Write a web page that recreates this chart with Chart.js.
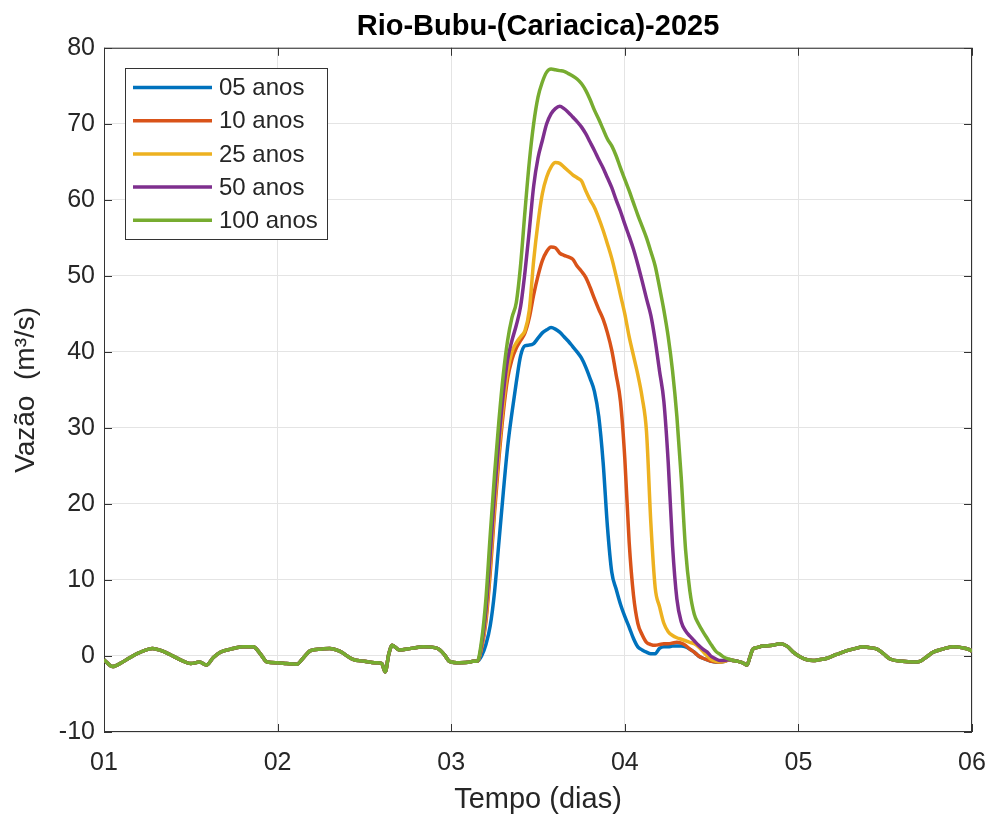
<!DOCTYPE html>
<html>
<head>
<meta charset="utf-8">
<script src="https://cdn.jsdelivr.net/npm/chart.js@4.4.1/dist/chart.umd.min.js"></script>
<style>
  html, body { margin: 0; background: #fff; }
</style>
</head>
<body>
<canvas id="chart" width="991" height="821"></canvas>
<script>
// series names and MATLAB default colours
const seriesLabels = ['05 anos', '10 anos', '25 anos', '50 anos', '100 anos'];
const seriesColors = ['#0072BD', '#D95319', '#EDB120', '#7E2F8E', '#77AC30'];

// tick labels on the time axis (days)
const xTickLabels = ['01', '02', '03', '04', '05', '06'];

// baseline before the flood (same for every return period)
const tPre = [1.00, 1.05, 1.10, 1.15, 1.20, 1.28, 1.33, 1.38, 1.44, 1.50, 1.55, 1.59, 1.63, 1.67, 1.73,
              1.80, 1.86, 1.90, 1.94, 2.00, 2.05, 2.11, 2.15, 2.19, 2.25, 2.30, 2.36, 2.43, 2.50, 2.57,
              2.60, 2.62, 2.64, 2.66, 2.70, 2.77, 2.84, 2.92, 2.96, 2.99, 3.05, 3.11, 3.125];
const qPre = [-0.5, -1.4, -0.9, -0.2, 0.4, 1.0, 0.7, 0.2, -0.5, -1.0, -0.8, -1.2, -0.2, 0.5, 0.9,
              1.2, 1.2, 0.3, -0.8, -0.9, -1.0, -1.1, -0.2, 0.7, 0.9, 1.0, 0.6, -0.4, -0.7, -0.9,
              -1.0, -2.1, 0.2, 1.4, 0.8, 1.0, 1.2, 1.0, 0.2, -0.7, -0.9, -0.8, -0.7];

// flood event window
const tEvent = [3.150, 3.175, 3.200, 3.225, 3.250, 3.275, 3.300, 3.325, 3.350, 3.375,
                3.400, 3.425, 3.450, 3.475, 3.500, 3.525, 3.550, 3.575, 3.600, 3.625,
                3.650, 3.675, 3.700, 3.725, 3.750, 3.775, 3.800, 3.825, 3.850, 3.875,
                3.900, 3.925, 3.950, 3.975, 4.000, 4.025, 4.050, 4.075, 4.100, 4.125,
                4.150, 4.175, 4.200, 4.225, 4.250, 4.275, 4.300, 4.325, 4.350, 4.375,
                4.400, 4.425, 4.450, 4.475, 4.500, 4.525, 4.550, 4.575, 4.600];
const q05 = [-0.7, 0.0, 1.5, 4.0, 8.5, 15.0, 21.5, 27.5, 32.0, 36.0,
             39.5, 40.8, 40.9, 41.1, 41.8, 42.5, 42.9, 43.2, 43.0, 42.6,
             42.0, 41.4, 40.7, 40.0, 39.2, 38.0, 36.5, 34.8, 31.5, 25.5,
             17.0, 11.0, 8.8, 6.8, 5.2, 3.8, 2.3, 1.2, 0.8, 0.5,
             0.3, 0.3, 1.0, 1.2, 1.2, 1.3, 1.3, 1.3, 1.2, 0.9,
             0.5, 0.0, -0.3, -0.5, -0.7, -0.8, -0.8, -0.7, -0.5];
const q10 = [-0.7, 1.0, 4.5, 11.0, 19.0, 26.0, 32.0, 36.5, 39.0, 40.5,
             41.5, 42.5, 44.5, 47.5, 50.0, 52.0, 53.2, 53.8, 53.7, 53.0,
             52.7, 52.5, 52.2, 51.3, 50.6, 49.8, 48.5, 47.0, 45.6, 44.3,
             42.5, 40.2, 37.0, 33.5, 26.0, 15.0, 8.0, 4.3, 2.8, 1.8,
             1.5, 1.4, 1.5, 1.6, 1.6, 1.7, 1.8, 1.7, 1.4, 0.9,
             0.5, 0.0, -0.3, -0.5, -0.7, -0.8, -0.8, -0.7, -0.5];
const q25 = [-0.7, 1.2, 5.0, 12.0, 20.0, 27.0, 33.0, 37.5, 40.0, 41.2,
             42.0, 42.8, 45.5, 52.0, 57.0, 60.8, 63.0, 64.3, 64.9, 64.8,
             64.3, 63.8, 63.3, 62.9, 62.5, 61.2, 60.0, 59.0, 57.6, 56.0,
             54.2, 52.3, 50.0, 47.5, 45.0, 42.0, 39.5, 37.0, 34.0, 29.5,
             17.5, 9.0, 6.5, 4.3, 3.2, 2.7, 2.4, 2.2, 2.0, 1.8,
             1.6, 1.2, 0.6, 0.0, -0.5, -0.7, -0.8, -0.7, -0.5];
const q50 = [-0.7, 1.5, 6.0, 13.5, 21.5, 28.5, 34.5, 39.0, 41.5, 43.5,
             46.0, 50.5, 56.0, 61.8, 65.5, 67.8, 70.0, 71.3, 72.0, 72.3,
             72.0, 71.5, 70.9, 70.3, 69.6, 68.7, 67.6, 66.5, 65.3, 64.2,
             62.9, 61.6, 60.0, 58.5, 56.8, 55.2, 53.5, 51.5, 49.3, 47.0,
             44.8, 41.5, 37.5, 33.5, 25.5, 14.5, 7.5, 4.5, 3.3, 2.6,
             2.0, 1.4, 0.9, 0.5, -0.1, -0.4, -0.6, -0.6, -0.5];
const q100 = [-0.7, 2.0, 7.5, 16.0, 24.0, 31.0, 37.0, 41.5, 44.5, 46.5,
              51.5, 58.5, 65.0, 70.0, 73.5, 75.5, 76.8, 77.2, 77.1, 77.0,
              76.9, 76.6, 76.3, 75.9, 75.3, 74.4, 73.2, 71.8, 70.6, 69.3,
              68.0, 67.1, 65.8, 64.2, 62.7, 61.2, 59.6, 58.0, 56.5, 55.0,
              53.2, 51.3, 48.5, 45.5, 42.0, 37.5, 31.5, 23.5, 14.0, 8.5,
              5.5, 4.2, 3.2, 2.3, 1.4, 0.6, 0.2, -0.2, -0.4];

// baseline after the flood
const tPost = [4.625, 4.65, 4.68, 4.704, 4.72, 4.738, 4.76, 4.796, 4.85, 4.894, 4.934, 4.97, 5.009,
               5.05, 5.084, 5.12, 5.165, 5.22, 5.28, 5.33, 5.372, 5.41, 5.453, 5.49, 5.528, 5.60,
               5.66, 5.70, 5.74, 5.775, 5.83, 5.89, 5.94, 5.988, 6.0];
const qPost = [-0.6, -0.7, -0.9, -1.2, -0.2, 0.9, 1.1, 1.3, 1.4, 1.6, 1.3, 0.5, -0.1,
               -0.5, -0.6, -0.5, -0.3, 0.2, 0.7, 1.0, 1.2, 1.1, 0.9, 0.3, -0.4, -0.7,
               -0.8, -0.7, -0.1, 0.5, 0.9, 1.2, 1.1, 0.8, 0.6];

const eventSeries = [q05, q10, q25, q50, q100];

const FONT = '"Liberation Sans", Arial, Helvetica, sans-serif';
const AXIS_COLOR = '#333333';

function buildPoints(q) {
    const t = tPre.concat(tEvent, tPost);
    const v = qPre.concat(q, qPost);
    return t.map((x, i) => ({ x: x, y: v[i] }));
}

const datasets = eventSeries.map((q, i) => ({
    label: seriesLabels[i],
    data: buildPoints(q),
    borderColor: seriesColors[i],
    backgroundColor: seriesColors[i],
    borderWidth: 3.5,
    pointRadius: 0,
    fill: false,
    cubicInterpolationMode: 'monotone',
    order: eventSeries.length - i   // last series (100 anos) drawn on top, like MATLAB
}));

// axes box, inward ticks and the MATLAB-style legend inside the plot
const matlabFrame = {
    id: 'matlabFrame',
    afterLayout(chart) {
        // center the title over the plot area, not the whole canvas
        if (chart.titleBlock) {
            chart.titleBlock.left = chart.chartArea.left;
            chart.titleBlock.right = chart.chartArea.right;
        }
    },
    beforeDatasetsDraw(chart) {
        const { ctx, chartArea: a, scales } = chart;
        ctx.save();
        ctx.strokeStyle = AXIS_COLOR;
        ctx.lineWidth = 1;
        ctx.strokeRect(a.left + 0.5, a.top + 0.5, a.right - a.left - 1, a.bottom - a.top - 1);
        const tl = 8;
        ctx.beginPath();
        scales.x.ticks.forEach(t => {
            const px = Math.round(scales.x.getPixelForValue(t.value)) + 0.5;
            ctx.moveTo(px, a.bottom); ctx.lineTo(px, a.bottom - tl);
            ctx.moveTo(px, a.top); ctx.lineTo(px, a.top + tl);
        });
        scales.y.ticks.forEach(t => {
            const py = Math.round(scales.y.getPixelForValue(t.value)) + 0.5;
            ctx.moveTo(a.left, py); ctx.lineTo(a.left + tl, py);
            ctx.moveTo(a.right, py); ctx.lineTo(a.right - tl, py);
        });
        ctx.stroke();
        ctx.restore();
    },
    afterDraw(chart) {
        const { ctx } = chart;
        const box = { x: 125, y: 68, w: 202, h: 171 };
        ctx.save();
        ctx.fillStyle = '#ffffff';
        ctx.fillRect(box.x, box.y, box.w, box.h);
        ctx.strokeStyle = AXIS_COLOR;
        ctx.lineWidth = 1;
        ctx.strokeRect(box.x + 0.5, box.y + 0.5, box.w, box.h);
        ctx.font = '24px ' + FONT;
        ctx.textBaseline = 'middle';
        ctx.textAlign = 'left';
        chart.data.datasets.forEach((ds, i) => {
            const y = 87.5 + i * 33.2;
            ctx.strokeStyle = ds.borderColor;
            ctx.lineWidth = 3.5;
            ctx.beginPath();
            ctx.moveTo(133, y);
            ctx.lineTo(212, y);
            ctx.stroke();
            ctx.fillStyle = '#262626';
            ctx.fillText(ds.label, 219, y + 1);
        });
        ctx.restore();
    }
};

new Chart(document.getElementById('chart'), {
    type: 'line',
    data: { datasets: datasets },
    options: {
        responsive: false,
        animation: false,
        layout: { padding: { left: 0, right: 19, top: 0, bottom: 0 } },
        plugins: {
            legend: { display: false },
            tooltip: { enabled: false },
            title: {
                display: true,
                text: 'Rio-Bubu-(Cariacica)-2025',
                color: '#000000',
                font: { family: FONT, size: 29, weight: 'bold' },
                padding: { top: 10, bottom: 3 }
            }
        },
        scales: {
            x: {
                type: 'linear',
                min: 1,
                max: 6,
                afterFit(scale) {
                    scale.height = 89;
                    scale.paddingLeft = 0;
                    scale.paddingRight = 0;
                },
                grid: { color: '#e4e4e4', drawTicks: false },
                border: { display: false },
                ticks: {
                    stepSize: 1,
                    padding: 16,
                    color: '#262626',
                    font: { family: FONT, size: 25 },
                    callback: (v) => xTickLabels[v - 1]
                },
                title: {
                    display: true,
                    text: 'Tempo (dias)',
                    color: '#262626',
                    font: { family: FONT, size: 29 },
                    padding: { top: 0, bottom: 4 }
                }
            },
            y: {
                min: -10,
                max: 80,
                afterFit(scale) { scale.width = 104; },
                grid: { color: '#e4e4e4', drawTicks: false },
                border: { display: false },
                ticks: {
                    stepSize: 10,
                    padding: 9,
                    color: '#262626',
                    font: { family: FONT, size: 25 }
                },
                title: {
                    display: true,
                    text: 'Vazão  (m³/s)',
                    color: '#262626',
                    font: { family: FONT, size: 28 },
                    padding: { top: 9, bottom: 0 }
                }
            }
        }
    },
    plugins: [matlabFrame]
});
</script>
</body>
</html>
